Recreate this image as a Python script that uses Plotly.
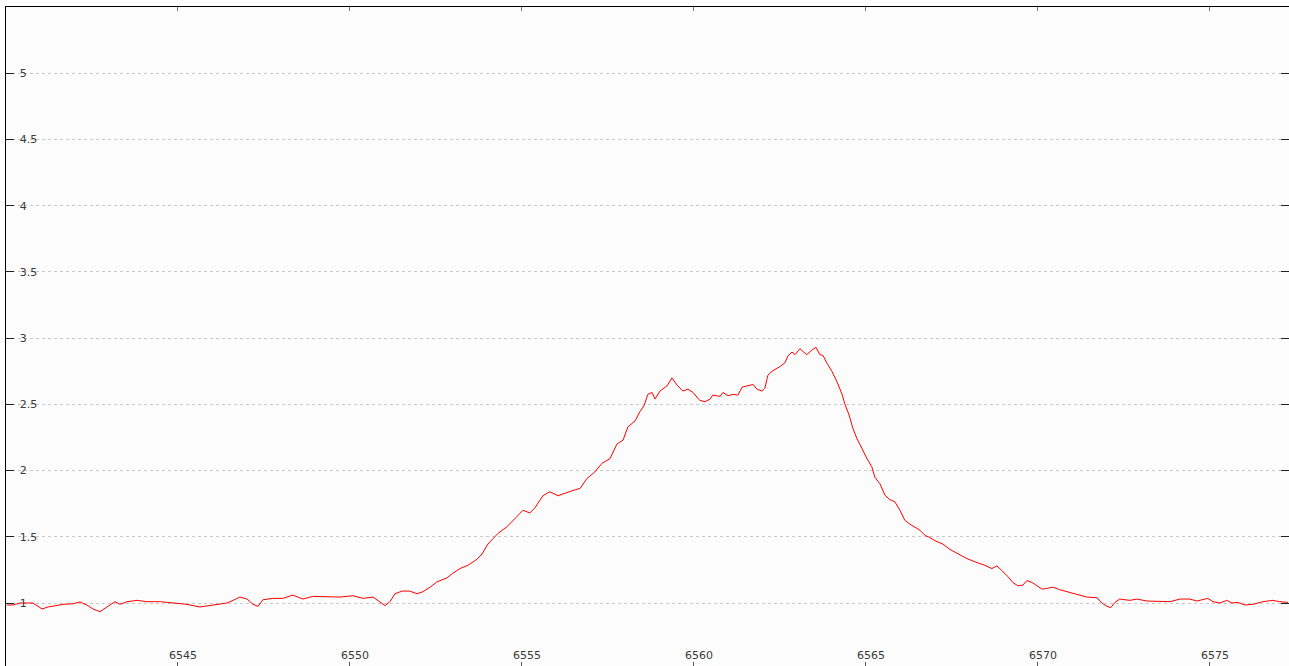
import plotly.graph_objects as go

# Wavelength (Angstrom) and normalised flux
wavelength = [
    6540.03, 6540.20, 6540.41, 6540.78, 6540.90, 6541.05, 6541.22, 6541.37, 6541.66, 6541.95,
    6542.15, 6542.35, 6542.53, 6542.73, 6542.88, 6543.02, 6543.17, 6543.31, 6543.52, 6543.81,
    6544.10, 6544.48, 6544.85, 6545.26, 6545.64, 6546.02, 6546.42, 6546.60, 6546.80, 6547.01,
    6547.18, 6547.33, 6547.47, 6547.76, 6548.05, 6548.34, 6548.63, 6548.92, 6549.33, 6549.71,
    6550.09, 6550.38, 6550.67, 6550.87, 6551.02, 6551.16, 6551.31, 6551.51, 6551.74, 6551.95,
    6552.12, 6552.33, 6552.53, 6552.82, 6552.99, 6553.20, 6553.43, 6553.69, 6553.84, 6554.01,
    6554.30, 6554.56, 6554.80, 6555.03, 6555.23, 6555.38, 6555.61, 6555.81, 6556.05, 6556.25,
    6556.48, 6556.69, 6556.89, 6557.12, 6557.33, 6557.56, 6557.76, 6557.94, 6558.08, 6558.29,
    6558.43, 6558.55, 6558.66, 6558.78, 6558.87, 6559.01, 6559.22, 6559.36, 6559.51, 6559.68,
    6559.83, 6559.97, 6560.17, 6560.32, 6560.47, 6560.55, 6560.76, 6560.84, 6560.99, 6561.13,
    6561.28, 6561.40, 6561.57, 6561.72, 6561.83, 6561.98, 6562.06, 6562.15, 6562.27, 6562.50,
    6562.65, 6562.73, 6562.85, 6562.94, 6563.08, 6563.28, 6563.43, 6563.55, 6563.66, 6563.75,
    6563.87, 6564.01, 6564.16, 6564.30, 6564.39, 6564.51, 6564.62, 6564.74, 6564.88, 6565.03,
    6565.17, 6565.26, 6565.41, 6565.55, 6565.70, 6565.84, 6565.99, 6566.13, 6566.28, 6566.42,
    6566.57, 6566.72, 6566.86, 6567.01, 6567.24, 6567.44, 6567.67, 6567.94, 6568.23, 6568.46,
    6568.66, 6568.81, 6568.95, 6569.13, 6569.27, 6569.42, 6569.56, 6569.68, 6569.83, 6569.97,
    6570.12, 6570.26, 6570.44, 6570.64, 6570.93, 6571.22, 6571.42, 6571.72, 6571.86, 6572.01,
    6572.12, 6572.24, 6572.38, 6572.67, 6572.88, 6573.17, 6573.55, 6573.84, 6574.13, 6574.42,
    6574.62, 6574.94, 6575.09, 6575.29, 6575.49, 6575.64, 6575.81, 6576.02, 6576.25, 6576.54,
    6576.83, 6577.03, 6577.27,
]
flux = [
    0.985, 0.985, 1.000, 1.000, 0.980, 0.955, 0.970, 0.977, 0.990, 0.995,
    1.008, 0.985, 0.955, 0.935, 0.960, 0.990, 1.010, 0.990, 1.010, 1.020,
    1.010, 1.010, 1.000, 0.990, 0.970, 0.985, 1.000, 1.020, 1.045, 1.030,
    0.990, 0.975, 1.025, 1.035, 1.035, 1.060, 1.030, 1.050, 1.045, 1.045,
    1.055, 1.035, 1.045, 1.010, 0.980, 1.010, 1.070, 1.090, 1.090, 1.070,
    1.085, 1.120, 1.160, 1.190, 1.225, 1.260, 1.285, 1.330, 1.370, 1.445,
    1.525, 1.575, 1.640, 1.700, 1.680, 1.720, 1.810, 1.840, 1.810, 1.830,
    1.850, 1.865, 1.940, 1.990, 2.055, 2.090, 2.200, 2.230, 2.330, 2.375,
    2.445, 2.490, 2.575, 2.590, 2.540, 2.600, 2.640, 2.700, 2.645, 2.600,
    2.615, 2.590, 2.530, 2.520, 2.540, 2.570, 2.560, 2.590, 2.565, 2.575,
    2.570, 2.630, 2.640, 2.650, 2.615, 2.600, 2.620, 2.720, 2.750, 2.785,
    2.815, 2.865, 2.895, 2.875, 2.920, 2.875, 2.910, 2.930, 2.875, 2.870,
    2.810, 2.750, 2.670, 2.580, 2.500, 2.420, 2.320, 2.240, 2.170, 2.090,
    2.030, 1.950, 1.900, 1.815, 1.780, 1.765, 1.700, 1.625, 1.595, 1.570,
    1.550, 1.510, 1.495, 1.470, 1.445, 1.405, 1.370, 1.335, 1.305, 1.285,
    1.260, 1.280, 1.245, 1.200, 1.155, 1.130, 1.135, 1.170, 1.155, 1.130,
    1.105, 1.110, 1.120, 1.100, 1.080, 1.055, 1.045, 1.040, 1.000, 0.975,
    0.965, 1.005, 1.030, 1.020, 1.030, 1.015, 1.015, 1.010, 1.030, 1.030,
    1.015, 1.035, 1.010, 1.000, 1.020, 1.000, 1.005, 0.985, 0.990, 1.010,
    1.020, 1.010, 1.005,
]

x_ticks = [6545, 6550, 6555, 6560, 6565, 6570, 6575]
y_ticks = [1, 1.5, 2, 2.5, 3, 3.5, 4, 4.5, 5]
y_tick_labels = ["1", "1.5", "2", "2.5", "3", "3.5", "4", "4.5", "5"]

FONT = dict(family="DejaVu Sans, Verdana, sans-serif", size=11, color="#3a3a3a")

fig = go.Figure()
fig.add_trace(go.Scatter(
    x=wavelength, y=flux, mode="lines",
    line=dict(color="#ff0000", width=1),
    showlegend=False, hoverinfo="skip",
))
# invisible helper trace for the top axis
fig.add_trace(go.Scatter(x=[6540], y=[1], xaxis="x2", mode="markers",
                         marker=dict(opacity=0), showlegend=False, hoverinfo="skip"))

fig.update_layout(
    width=1289, height=666,
    margin=dict(l=6, r=0, t=7, b=0),
    paper_bgcolor="#ffffff",
    plot_bgcolor="#fbfcfb",
    font=FONT,
    xaxis=dict(
        range=[6540, 6577.3],
        tickvals=x_ticks,
        ticks="inside", ticklen=4, tickcolor="#555555",
        ticklabelposition="inside",
        ticklabelshift=5,
        showline=False, showgrid=False, zeroline=False,
        tickfont=FONT,
    ),
    xaxis2=dict(
        overlaying="x", matches="x", side="top",
        tickvals=x_ticks, showticklabels=False,
        ticks="inside", ticklen=4, tickcolor="#777777",
        showline=True, linecolor="#000000", linewidth=1,
        showgrid=False, zeroline=False,
    ),
    yaxis=dict(
        range=[0.5245, 5.5],
        tickvals=y_ticks, ticktext=y_tick_labels,
        ticks="inside", ticklen=8, tickcolor="#222222",
        ticklabelposition="inside",
        ticklabelstandoff=5,
        showline=True, linecolor="#000000", linewidth=1, mirror="ticks",
        showgrid=True, gridcolor="#c8c8c8", griddash="3px,3px", gridwidth=1,
        zeroline=False,
        tickfont=FONT,
    ),
)

fig.write_html("out.html", config={"displayModeBar": False},
               post_script="document.body.style.margin='0';")
